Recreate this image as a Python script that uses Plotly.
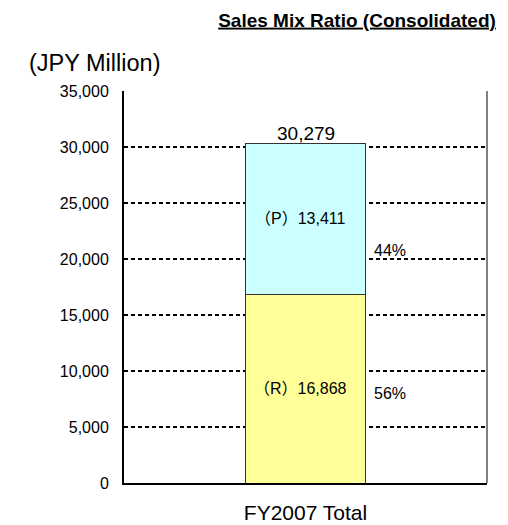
import plotly.graph_objects as go

categories = ["FY2007 Total"]
segment_names = ["R", "P"]
segment_values = [16868, 13411]
segment_labels = ["（R）16,868", "（P）13,411"]
segment_colors = ["#FFFF99", "#CCFFFF"]
share_labels = ["56%", "44%"]
share_y = [8000, 20800]
total_value = 30279
total_label = "30,279"

FONT = "Liberation Sans, Arial, Noto Sans CJK JP, sans-serif"

# page body has an 8px margin, so the figure is drawn 8px smaller
W, H = 500, 517
ML, MR, MT, MB = 116, 21, 83, 42
PW, PH = W - ML - MR, H - MT - MB

fig = go.Figure()
base = 0
for name, val, lab, col in zip(segment_names, segment_values, segment_labels, segment_colors):
    fig.add_trace(go.Bar(
        x=categories,
        y=[val],
        name=name,
        width=0.333,
        marker=dict(color=col, line=dict(color="#333333", width=1)),
        hoverinfo="skip",
    ))
    # segment label in the middle of its block
    fig.add_annotation(
        x=categories[0], y=base + val / 2, text=lab,
        showarrow=False, xanchor="center", yanchor="middle", xshift=-5,
        font=dict(size=16, color="black", family=FONT),
    )
    base += val

# total on top of stack
fig.add_annotation(
    x=categories[0], y=total_value, text=total_label,
    showarrow=False, yanchor="bottom", yshift=-2,
    font=dict(size=19, color="black", family=FONT),
)
# share percentages beside the bar
for lab, yy in zip(share_labels, share_y):
    fig.add_annotation(
        x=0.184, y=yy, xref="x", yref="y", text=lab,
        showarrow=False, xanchor="left", yanchor="middle",
        font=dict(size=16, color="black", family=FONT),
    )

fig.add_annotation(
    x=(19 - ML) / PW, y=1 + (MT - 55) / PH, xref="paper", yref="paper",
    text="(JPY Million)", showarrow=False, xanchor="left", yanchor="middle",
    font=dict(size=23.5, color="black", family=FONT),
)

# grey right border of the plot frame
fig.add_shape(type="line", xref="paper", yref="paper",
              x0=1, x1=1, y0=0, y1=1,
              line=dict(color="#808080", width=2))

fig.update_layout(
    width=W, height=H,
    barmode="stack",
    showlegend=False,
    plot_bgcolor="white",
    paper_bgcolor="white",
    margin=dict(l=ML, r=MR, t=MT, b=MB, autoexpand=False),
    font=dict(family=FONT, color="black"),
    title=dict(
        text="<b><u>Sales Mix Ratio (Consolidated)</u></b>",
        x=349 / W, xanchor="center",
        y=1 - 12 / H, yanchor="middle",
        font=dict(size=19, color="black", family=FONT),
    ),
    xaxis=dict(
        range=[-0.5, 0.5],
        showline=True, linecolor="black", linewidth=2,
        ticks="", showgrid=False, automargin=False,
        tickfont=dict(size=21, color="black"),
        ticklabelstandoff=10,
    ),
    yaxis=dict(
        range=[0, 35000],
        dtick=5000, tickformat=",d",
        showline=True, linecolor="black", linewidth=2,
        ticks="", automargin=False,
        showgrid=True, gridcolor="black", griddash="4px,3px", gridwidth=2,
        zeroline=False,
        tickfont=dict(size=16, color="black"),
        ticklabelstandoff=10,
    ),
)

fig.write_html("out.html")
